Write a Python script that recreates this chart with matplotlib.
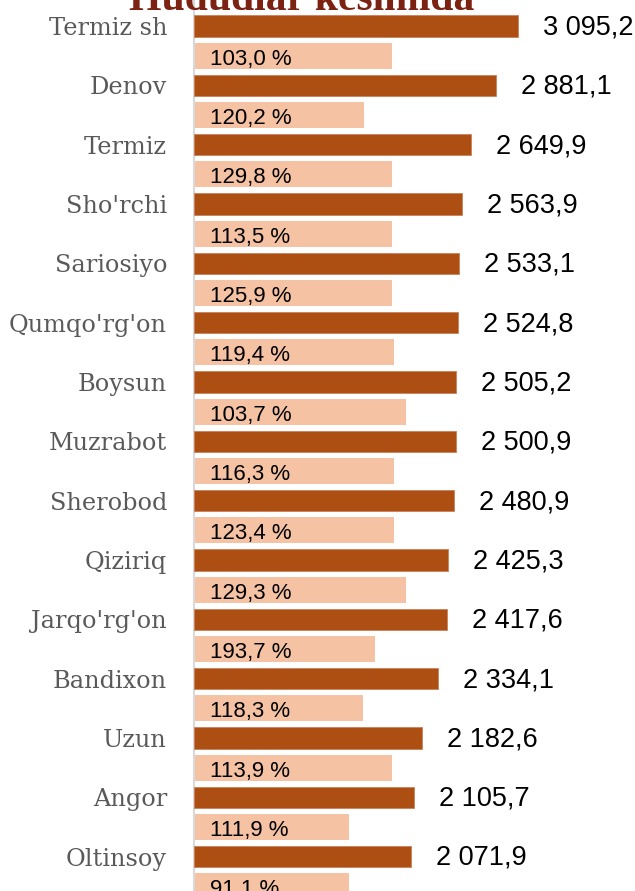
import matplotlib.pyplot as plt

# Hududlar kesimida
regions = ["Termiz sh", "Denov", "Termiz", "Sho'rchi", "Sariosiyo", "Qumqo'rg'on",
           "Boysun", "Muzrabot", "Sherobod", "Qiziriq", "Jarqo'rg'on", "Bandixon",
           "Uzun", "Angor", "Oltinsoy"]
values = [3095.2, 2881.1, 2649.9, 2563.9, 2533.1, 2524.8, 2505.2, 2500.9,
          2480.9, 2425.3, 2417.6, 2334.1, 2182.6, 2105.7, 2071.9]
growth = [103.0, 120.2, 129.8, 113.5, 125.9, 119.4, 103.7, 116.3,
          123.4, 129.3, 193.7, 118.3, 113.9, 111.9, 91.1]
# length of the light bars as drawn (same units as values)
growth_bar = [1890, 1630, 1890, 1890, 1890, 1910, 2030, 1910,
              1910, 2030, 1730, 1620, 1890, 1480, 1480]

dark = "#AD4E12"
light = "#F5C3A4"

fig = plt.figure(figsize=(6.35, 8.91), dpi=100)
ax = fig.add_axes([193.5 / 635, 0, 1 - 193.5 / 635, 1])

y = list(range(len(regions)))
y2 = [i + 0.5 for i in y]

ax.barh(y2, growth_bar, height=0.44, color=light, zorder=2)
ax.barh(y, values, height=0.36, color=dark, edgecolor="#C8825A", linewidth=0.6, zorder=3)

for yi, v in zip(y, values):
    lab = f"{v:,.1f}".replace(",", " ").replace(".", ",")
    ax.annotate(lab, (v, yi), xytext=(18, -1), textcoords="offset points",
                ha="left", va="center", fontsize=19.5, family="Liberation Sans",
                color="black")

for yi, g in zip(y2, growth):
    lab = f"{g:.1f} %".replace(".", ",")
    ax.annotate(lab, (0, yi), xytext=(12, -2.5), textcoords="offset points",
                ha="left", va="center", fontsize=16, family="Liberation Sans",
                color="black", zorder=2.5)

ax.set_xlim(0, 4211)
ax.set_ylim(14.58, -0.44)
ax.set_yticks(y)
ax.set_yticklabels(regions, family="DejaVu Serif", fontsize=17.3, color="#595959")
ax.tick_params(axis="y", length=0, pad=19)
ax.set_xticks([])
for s in ["top", "right", "bottom"]:
    ax.spines[s].set_visible(False)
ax.spines["left"].set_color("#D9D9D9")
ax.spines["left"].set_linewidth(1.5)

fig.text(302 / 635, 1 - 10 / 891, "Hududlar kesimida", ha="center", va="baseline",
         fontsize=30, fontweight="bold", family="Liberation Serif", color="#7B2212")

fig.savefig("out.png", dpi=100)
